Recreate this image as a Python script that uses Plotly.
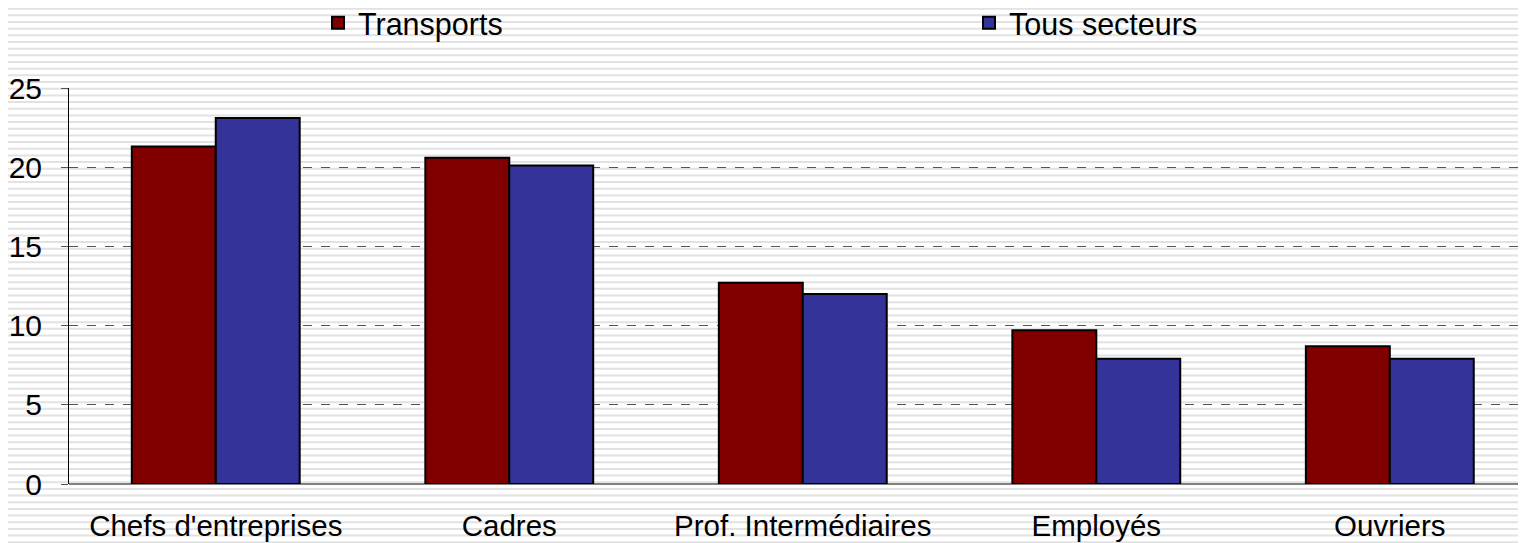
import plotly.graph_objects as go

categories = ["Chefs d'entreprises", "Cadres", "Prof. Intermédiaires", "Employés", "Ouvriers"]
transports = [21.3, 20.6, 12.7, 9.7, 8.7]
tous_secteurs = [23.1, 20.1, 12.0, 7.9, 7.9]
y_ticks = [0, 5, 10, 15, 20, 25]

# page body has an 8px offset; compensate so the plot lands where the reference has it
OFF = 8
W, H = 1526 - OFF, 543 - OFF
ML, MR, MT, MB = 69 - OFF, 0, 88 - OFF, 59
FONT = "Liberation Sans, Arial, sans-serif"

fig = go.Figure()
fig.add_trace(go.Bar(name="Transports", x=categories, y=transports,
                     marker=dict(color="#800000", line=dict(color="#000000", width=2))))
fig.add_trace(go.Bar(name="Tous secteurs", x=categories, y=tous_secteurs,
                     marker=dict(color="#333399", line=dict(color="#000000", width=2))))

# striped background (decoration)
plot_h = H - MT - MB
plot_w = W - ML - MR
shapes = []
period = 6.67
py = 2.0 - OFF
while py < H + 2:
    yp = (H - MB - py) / plot_h
    shapes.append(dict(type="line", xref="paper", yref="paper",
                       x0=-(ML + 10) / plot_w, x1=1 + 10 / plot_w, y0=yp, y1=yp,
                       line=dict(color="#e2e2e2", width=2), layer="below"))
    py += period

fig.update_layout(
    width=W, height=H,
    margin=dict(l=ML, r=MR, t=MT, b=MB, pad=0, autoexpand=False),
    paper_bgcolor="white",
    plot_bgcolor="rgba(0,0,0,0)",
    barmode="group",
    bargap=0.428,
    bargroupgap=0,
    font=dict(family=FONT, size=29, color="#000000"),
    shapes=shapes,
    showlegend=True,
    legend=dict(orientation="h", x=(330 - 69 - 12) / plot_w, xanchor="left",
                y=1 - (23 - OFF) / H, yanchor="middle", yref="container",
                entrywidth=606, font=dict(size=30.5),
                bgcolor="rgba(0,0,0,0)", itemclick=False),
    xaxis=dict(range=[-0.5, 4.464], showgrid=False, ticks="", showline=False,
               ticklabelstandoff=21, tickfont=dict(size=29.5)),
    yaxis=dict(range=[0, 25], tickvals=y_ticks, showgrid=True, gridcolor="#555555",
               griddash="dash", gridwidth=1, zeroline=True, zerolinecolor="#808080",
               zerolinewidth=2, showline=True, linecolor="#000000", linewidth=1,
               ticks="outside", ticklen=7, tickcolor="#555555",
               ticklabelstandoff=13, tickfont=dict(size=30)),
)

fig.write_html("out.html")
